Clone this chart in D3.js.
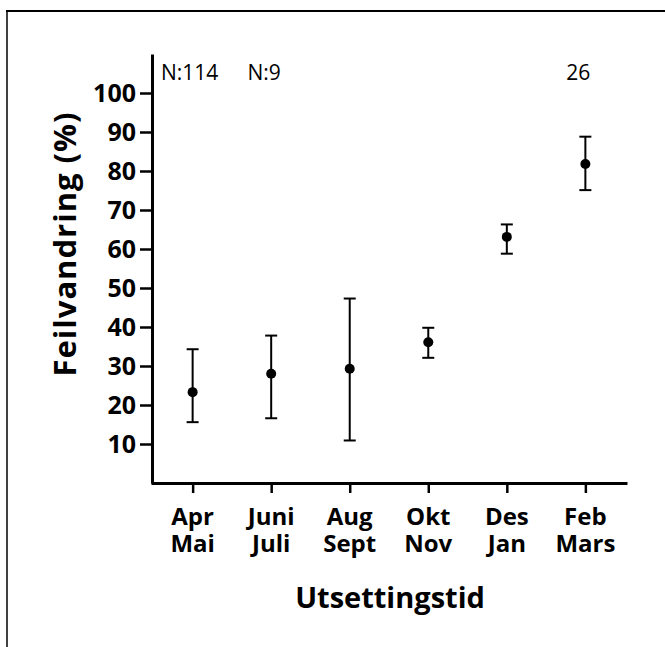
<!DOCTYPE html>
<html>
<head>
<meta charset="utf-8">
<script src="https://cdn.jsdelivr.net/npm/d3@7"></script>
<style>
  html, body { margin: 0; padding: 0; background: #fff; }
  svg { display: block; }
  text { font-family: "Open Sans", "Noto Sans", sans-serif; fill: #000; }
</style>
</head>
<body>
<svg id="chart" width="665" height="647"></svg>
<script>
// ---- data ----
const categoriesTop = ["Apr", "Juni", "Aug", "Okt", "Des", "Feb"];
const categoriesBottom = ["Mai", "Juli", "Sept", "Nov", "Jan", "Mars"];
const means = [23.3, 28.0, 29.3, 36.1, 63.1, 81.8];
const upper = [34.3, 37.8, 47.3, 39.8, 66.3, 88.8];
const lower = [15.6, 16.6, 10.9, 32.1, 58.8, 75.1];
const nLabels = ["N:114", "N:9", "", "", "", "26"];
const yTicks = [10, 20, 30, 40, 50, 60, 70, 80, 90, 100];
const yTitle = "Feilvandring (%)";
const xTitle = "Utsettingstid";

const svg = d3.select("#chart");

// frame (top and left edges of the scanned box)
svg.append("line").attr("x1", 6).attr("x2", 665).attr("y1", 11).attr("y2", 11)
  .attr("stroke", "#000").attr("stroke-width", 2);
svg.append("line").attr("x1", 7).attr("x2", 7).attr("y1", 10).attr("y2", 647)
  .attr("stroke", "#000").attr("stroke-width", 1.5);

const x = d3.scalePoint().domain(categoriesTop).range([151, 627]).padding(0.53);
const y = d3.scaleLinear().domain([0, 110]).range([483, 54]);

// y axis
const yAxis = svg.append("g").attr("transform", "translate(152,0)")
  .call(d3.axisLeft(y).tickValues(yTicks).tickSize(12).tickSizeOuter(0).tickPadding(4));
yAxis.select(".domain").attr("stroke-width", 3);
yAxis.selectAll(".tick line").attr("stroke-width", 2.5);
yAxis.selectAll(".tick text").attr("font-size", 25).attr("font-weight", 700)
  .attr("font-family", "'Open Sans', sans-serif").attr("fill", "#000");

// x axis
const xAxis = svg.append("g").attr("transform", "translate(0,483)")
  .call(d3.axisBottom(x).tickSize(10).tickSizeOuter(0).tickFormat(""));
xAxis.select(".domain").attr("stroke-width", 3);
xAxis.selectAll(".tick line").attr("stroke-width", 2.5);

// two-line x tick labels
categoriesTop.forEach((c, i) => {
  svg.append("text").attr("x", x(c)).attr("y", 525).attr("text-anchor", "middle")
    .attr("font-size", 24).attr("font-weight", 700).text(c);
  svg.append("text").attr("x", x(c)).attr("y", 552).attr("text-anchor", "middle")
    .attr("font-size", 24).attr("font-weight", 700).text(categoriesBottom[i]);
});

// error bars
const g = svg.append("g");
categoriesTop.forEach((c, i) => {
  const cx = x(c);
  g.append("line").attr("x1", cx).attr("x2", cx).attr("y1", y(upper[i])).attr("y2", y(lower[i]))
    .attr("stroke", "#000").attr("stroke-width", 2);
  [upper[i], lower[i]].forEach(v => {
    g.append("line").attr("x1", cx - 6).attr("x2", cx + 6).attr("y1", y(v)).attr("y2", y(v))
      .attr("stroke", "#000").attr("stroke-width", 2);
  });
  g.append("circle").attr("cx", cx).attr("cy", y(means[i])).attr("r", 5).attr("fill", "#000");
});

// N labels (sample sizes), placed just above the plot top
const nOffsets = [-3, -7, 0, 0, 0, -7];
categoriesTop.forEach((c, i) => {
  if (!nLabels[i]) return;
  svg.append("text").attr("x", x(c) + nOffsets[i]).attr("y", 80)
    .attr("text-anchor", "middle").attr("font-size", 21).text(nLabels[i]);
});

// axis titles
svg.append("text").attr("transform", "translate(76,244) rotate(-90)")
  .attr("text-anchor", "middle").attr("font-size", 31).attr("font-weight", 700)
  .attr("letter-spacing", 1).text(yTitle);
svg.append("text").attr("x", 390).attr("y", 608).attr("text-anchor", "middle")
  .attr("font-size", 29).attr("font-weight", 700).text(xTitle);
</script>
</body>
</html>
